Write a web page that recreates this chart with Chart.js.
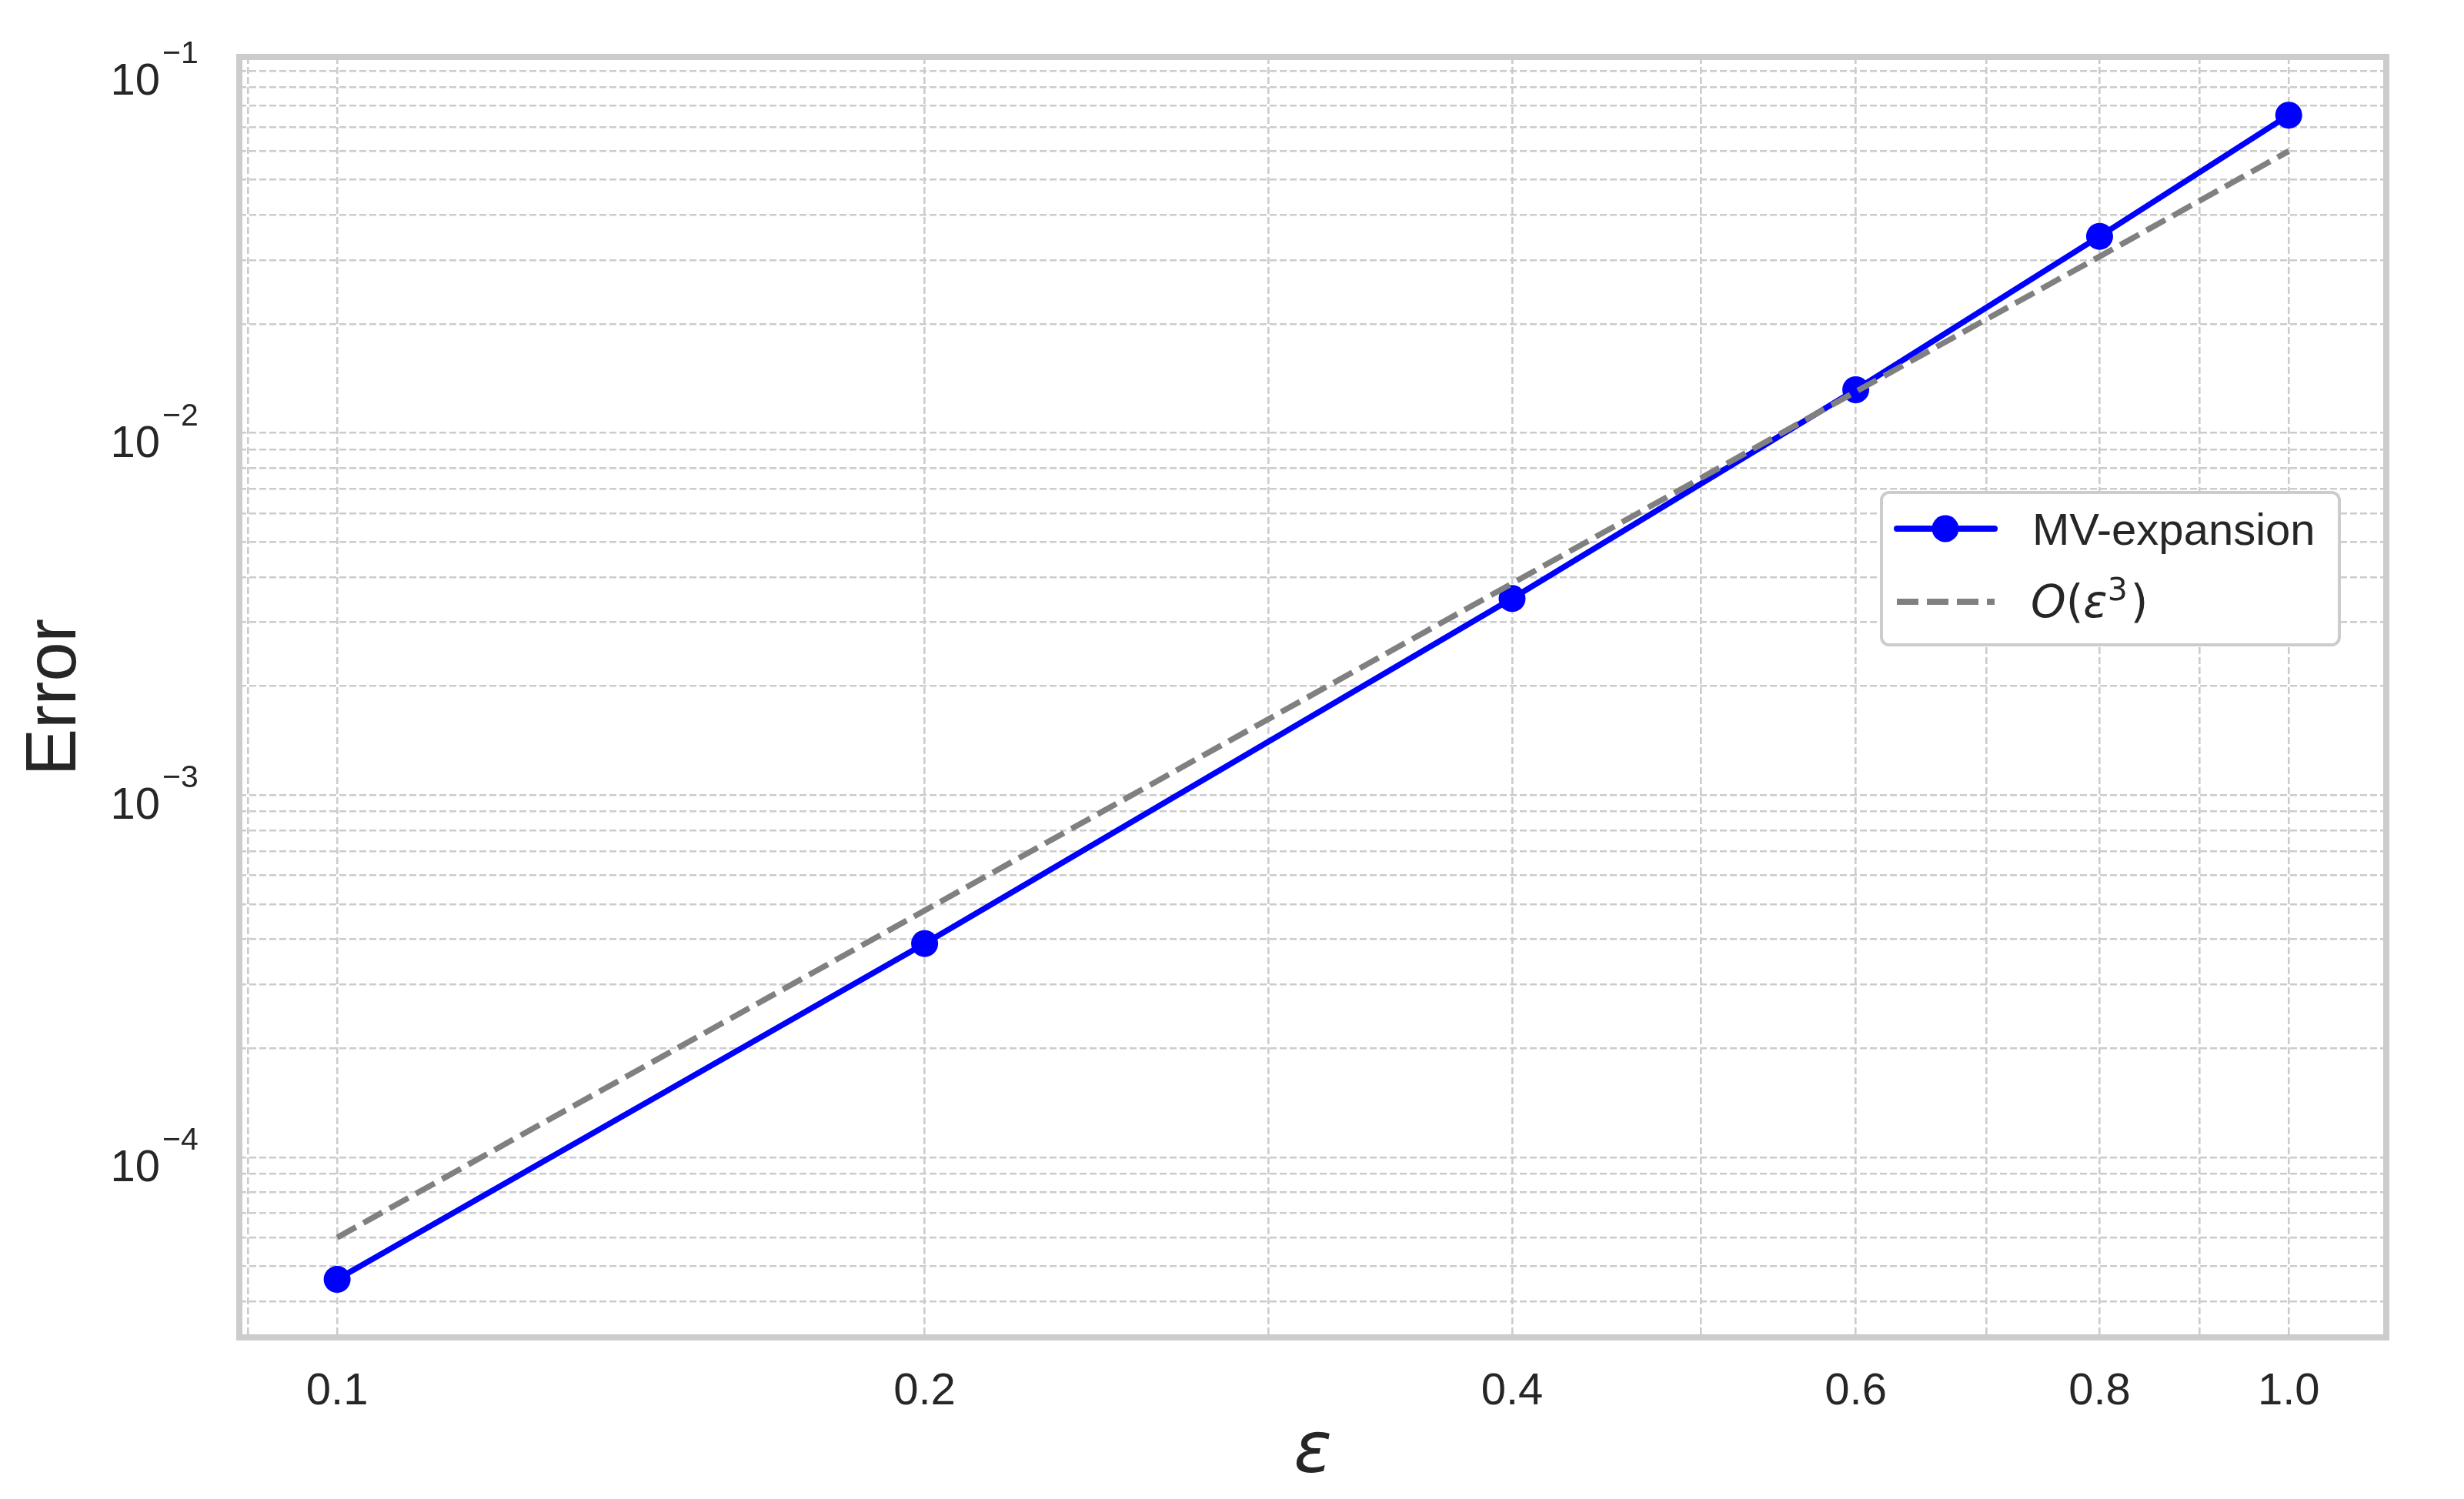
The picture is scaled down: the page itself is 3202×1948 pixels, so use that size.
<!DOCTYPE html>
<html>
<head>
<meta charset="utf-8">
<script src="https://cdn.jsdelivr.net/npm/chart.js@4.4.1/dist/chart.umd.min.js"></script>
<style>html,body{margin:0;padding:0;background:#fff}canvas{display:block}</style>
</head>
<body>
<canvas id="graficoError" width="3202" height="1948"></canvas>
<script>
// datos
const epsValues = [0.1, 0.2, 0.4, 0.6, 0.8, 1.0];
const mvErrors = [4.60e-5, 3.89e-4, 3.49e-3, 1.316e-2, 3.49e-2, 7.54e-2];
const refErrors = [6.0e-5, 4.8e-4, 3.84e-3, 1.30e-2, 3.07e-2, 6.0e-2];
const xTickLabels = [0.1, 0.2, 0.4, 0.6, 0.8, 1.0];
const xGridValues = [0.09, 0.1, 0.2, 0.3, 0.4, 0.5, 0.6, 0.7, 0.8, 0.9, 1.0];
const yDecades = [1e-5, 1e-4, 1e-3, 1e-2, 1e-1];
const yTickExponents = [-4, -3, -2, -1];

const textColor = '#262626';
const gridColor = '#cccccc';
const sansFont = '"Liberation Sans", Arial, sans-serif';
const mathFont = '"DejaVu Sans", sans-serif';

const yMin = 3.18e-5, yMax = 0.1092;

// marco gris alrededor del area
const framePlugin = {
    id: 'frame',
    beforeDatasetsDraw(chart) {
        const {ctx, chartArea: a} = chart;
        ctx.save();
        ctx.lineWidth = 8;
        ctx.strokeStyle = gridColor;
        ctx.strokeRect(a.left, a.top, a.right - a.left, a.bottom - a.top);
        ctx.restore();
    }
};

// etiquetas 10^n del eje y
const yLabelsPlugin = {
    id: 'yLabels',
    afterDraw(chart) {
        const ctx = chart.ctx;
        const ys = chart.scales.y;
        const xr = chart.chartArea.left - 103;
        ctx.save();
        ctx.fillStyle = textColor;
        yTickExponents.forEach(e => {
            const p = ys.getPixelForValue(Math.pow(10, e));
            ctx.font = '58px ' + sansFont;
            ctx.textAlign = 'right';
            ctx.textBaseline = 'alphabetic';
            ctx.fillText('10', xr, p + 31);
            ctx.font = '41px ' + sansFont;
            ctx.textAlign = 'left';
            ctx.fillText('\u2212' + Math.abs(e), xr + 3, p - 10);
        });
        ctx.restore();
    }
};

// leyenda con recuadro
const legendPlugin = {
    id: 'boxLegend',
    afterDraw(chart) {
        const ctx = chart.ctx;
        const ds = chart.data.datasets;
        const bx = 2445, by = 640, bw = 595, bh = 198;
        ctx.save();
        ctx.beginPath();
        ctx.roundRect(bx, by, bw, bh, 10);
        ctx.fillStyle = '#ffffff';
        ctx.fill();
        ctx.lineWidth = 4;
        ctx.strokeStyle = gridColor;
        ctx.stroke();

        // fila 1
        let y = 687;
        ctx.beginPath();
        ctx.moveTo(2465, y);
        ctx.lineTo(2592, y);
        ctx.lineWidth = 8;
        ctx.lineCap = 'round';
        ctx.strokeStyle = ds[0].borderColor;
        ctx.stroke();
        ctx.beginPath();
        ctx.arc(2528, y, 17.5, 0, Math.PI * 2);
        ctx.fillStyle = ds[0].pointBackgroundColor;
        ctx.fill();
        ctx.fillStyle = textColor;
        ctx.font = '58px ' + sansFont;
        ctx.textAlign = 'left';
        ctx.textBaseline = 'alphabetic';
        ctx.fillText(ds[0].label, 2641, 708);

        // fila 2
        y = 782;
        ctx.beginPath();
        ctx.moveTo(2465, y);
        ctx.lineTo(2592, y);
        ctx.lineWidth = 8;
        ctx.lineCap = 'butt';
        ctx.setLineDash(ds[1].borderDash);
        ctx.strokeStyle = ds[1].borderColor;
        ctx.stroke();
        ctx.setLineDash([]);

        const base = 802;
        let x = 2639;
        const parts = [
            ['O', 'italic 58px ' + mathFont, 0],
            ['(', '58px ' + mathFont, 0],
            ['\u03b5', 'italic 58px ' + mathFont, 0],
            ['3', '41px ' + mathFont, -22],
            [')', '58px ' + mathFont, 0]
        ];
        ctx.fillStyle = textColor;
        parts.forEach(([t, f, dy]) => {
            ctx.font = f;
            ctx.fillText(t, x, base + dy);
            x += ctx.measureText(t).width + (t === '3' ? 4 : 0);
        });
        ctx.restore();
    }
};

const ctx = document.getElementById('graficoError').getContext('2d');
new Chart(ctx, {
    type: 'line',
    data: {
        datasets: [
            {
                label: 'MV-expansion',
                data: epsValues.map((e, i) => ({x: e, y: mvErrors[i]})),
                borderColor: '#0000ff',
                backgroundColor: '#0000ff',
                pointBackgroundColor: '#0000ff',
                pointBorderWidth: 0,
                pointRadius: 17.5,
                pointHoverRadius: 17.5,
                borderWidth: 7.5,
                tension: 0,
                order: 2
            },
            {
                label: 'O(\u03b5\u00b3)',
                data: epsValues.map((e, i) => ({x: e, y: refErrors[i]})),
                borderColor: '#808080',
                backgroundColor: '#808080',
                borderDash: [28, 11],
                borderWidth: 7.5,
                pointRadius: 0,
                pointHoverRadius: 0,
                tension: 0,
                order: 1
            }
        ]
    },
    options: {
        responsive: false,
        animation: false,
        devicePixelRatio: 1,
        layout: { padding: { left: 0, top: 74, right: 101, bottom: 0 } },
        plugins: {
            legend: { display: false },
            tooltip: { enabled: false }
        },
        scales: {
            x: {
                type: 'logarithmic',
                min: 0.0891,
                max: 1.122,
                afterBuildTicks: s => { s.ticks = xGridValues.map(v => ({ value: v })); },
                afterFit: s => { s.height = 210; },
                grid: { color: gridColor, lineWidth: 2.6, drawTicks: false },
                border: { display: false, dash: [9, 4] },
                ticks: {
                    autoSkip: false,
                    maxRotation: 0,
                    minRotation: 0,
                    padding: 36,
                    color: textColor,
                    font: { family: sansFont, size: 58 },
                    callback: v => xTickLabels.includes(v) ? v.toFixed(1) : ''
                },
                title: {
                    display: true,
                    text: '\u03b5',
                    color: textColor,
                    font: { family: mathFont, size: 92, style: 'italic', lineHeight: 1 },
                    padding: { top: 0, bottom: 13 }
                }
            },
            y: {
                type: 'logarithmic',
                min: yMin,
                max: yMax,
                afterBuildTicks: s => {
                    const t = [];
                    yDecades.forEach(d => {
                        for (let k = 1; k <= 9; k++) {
                            const v = k * d;
                            if (v >= yMin && v <= yMax) t.push({ value: v });
                        }
                    });
                    s.ticks = t;
                },
                afterFit: s => { s.width = 311; },
                grid: { color: gridColor, lineWidth: 2.6, drawTicks: false },
                border: { display: false, dash: [9, 4] },
                ticks: { display: false },
                title: {
                    display: true,
                    text: 'Error',
                    color: textColor,
                    font: { family: sansFont, size: 92, lineHeight: 1 },
                    padding: { top: 27, bottom: 0 }
                }
            }
        }
    },
    plugins: [framePlugin, yLabelsPlugin, legendPlugin]
});
</script>
</body>
</html>
